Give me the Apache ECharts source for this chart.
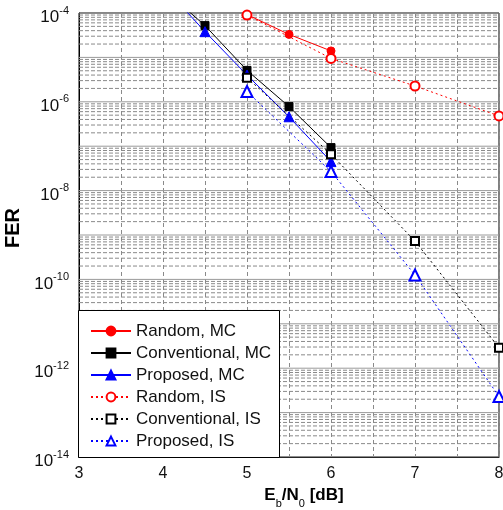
<!DOCTYPE html>
<html><head><meta charset="utf-8">
<script src="https://cdn.jsdelivr.net/npm/echarts@6/dist/echarts.min.js"></script>
<style>html,body{margin:0;padding:0;background:#fff}#c{width:503px;height:510px}</style>
</head><body><div id="c"></div>
<script>
// ---- data ----
var seriesNames = ['Random, MC','Conventional, MC','Proposed, MC','Random, IS','Conventional, IS','Proposed, IS'];
var randomMC_x = [5, 5.5, 6];
var randomMC_y = [9.2e-5, 3.3e-5, 1.4e-5];
var convMC_x = [4, 4.5, 5, 5.5, 6];
var convMC_y = [3.5e-4, 5.2e-5, 5.1e-6, 7.8e-7, 9.3e-8];
var propMC_x = [4, 4.5, 5, 5.5, 6];
var propMC_y = [4.1e-4, 3.8e-5, 4.0e-6, 4.6e-7, 4.5e-8];
var randomIS_x = [5, 6, 7, 8];
var randomIS_y = [9.0e-5, 9.5e-6, 2.27e-6, 4.8e-7];
var convIS_x = [5, 6, 7, 8];
var convIS_y = [3.5e-6, 6.6e-8, 7.3e-10, 2.9e-12];
var propIS_x = [5, 6, 7, 8];
var propIS_y = [1.7e-6, 2.7e-8, 1.26e-10, 2.3e-13];
var xTicks = [3, 4, 5, 6, 7, 8];
var yDecades = [-14, -13, -12, -11, -10, -9, -8, -7, -6, -5, -4];
var minorMultipliers = [2, 3, 4, 5, 6, 7, 8, 9];

function pairs(xs, ys){ return xs.map(function(x,i){ return [x, ys[i]]; }); }

// log grid lines as horizontal segments in data coordinates
var majorGrid = [], minorGrid = [];
yDecades.forEach(function(d){
  var base = Math.pow(10, d);
  majorGrid.push([3, base], [8, base], ['-', '-']);
  if (d < -4) {
    minorMultipliers.forEach(function(k){
      minorGrid.push([3, k * base], [8, k * base], ['-', '-']);
    });
  }
});

var chart = echarts.init(document.getElementById('c'), null, {renderer:'canvas'});
var FONT = 'Liberation Sans, Arial, sans-serif';
function mk(name, xs, ys, color, symbol, size, dashed){
  return {
    name: name, type: 'line', data: pairs(xs, ys), clip: true,
    symbol: symbol, symbolSize: size, showSymbol: true,
    lineStyle: {color: color, width: 1, type: dashed ? [2,3] : 'solid'},
    itemStyle: {color: color, borderColor: color, borderWidth: 1},
    emphasis: {disabled: true}, z: 3, animation: false
  };
}
function gridSeries(name, data, style){
  return {name: name, type: 'line', data: data, symbol: 'none', showSymbol: false, connectNulls: false,
          silent: true, z: 1, lineStyle: style, emphasis: {disabled: true}, animation: false};
}
chart.setOption({
  animation: false,
  backgroundColor: '#fff',
  grid: {left: 79, right: 4, top: 13, bottom: 53, containLabel: false, outerBoundsMode: 'none',
         show: true, borderColor: '#000', borderWidth: 1, backgroundColor: 'transparent'},
  xAxis: {
    type: 'value', min: 3, max: 8, interval: 0.5,
    axisLine: {show: true, lineStyle: {color: '#000', width: 1}},
    axisTick: {show: false},
    splitLine: {show: true, lineStyle: {type: [4,3], color: '#8a8a8a', width: 1}},
    axisLabel: {
      color: '#111', fontFamily: FONT, fontSize: 16, margin: 9, showMaxLabel: true, showMinLabel: true,
      formatter: function(v){ return (Math.abs(v - Math.round(v)) < 1e-6 && xTicks.indexOf(Math.round(v)) >= 0) ? String(Math.round(v)) : ''; }
    },
    name: '{n|E}{s|b}{n|/N}{s|0}{n| [dB]}', nameLocation: 'middle', nameGap: 30,
    nameTextStyle: {
      padding: [0, 0, 0, 30],
      rich: {
        n: {fontFamily: FONT, fontSize: 17, fontWeight: 'bold', color: '#000', lineHeight: 20, verticalAlign: 'top'},
        s: {fontFamily: FONT, fontSize: 11, color: '#000', lineHeight: 11, verticalAlign: 'top', padding: [11, 0, 0, 0]}
      }
    }
  },
  yAxis: {
    type: 'log', logBase: 10, min: 1e-14, max: 1e-4, interval: 1, splitNumber: 10,
    axisLine: {show: true, lineStyle: {color: '#000', width: 1}},
    axisTick: {show: false},
    splitLine: {show: false},
    axisLabel: {
      margin: 10, showMaxLabel: true, showMinLabel: true,
      formatter: function(v){
        var e = Math.round(Math.log10(v));
        if (e % 2 !== 0) return '';
        return '{b|10}{s|' + e + '}';
      },
      rich: {
        b: {fontFamily: FONT, fontSize: 17, color: '#111', lineHeight: 18, verticalAlign: 'top', padding: [5, 0, 0, 0]},
        s: {fontFamily: FONT, fontSize: 11, color: '#111', lineHeight: 11, verticalAlign: 'top', padding: [1, 0, 0, 0]}
      }
    },
    name: 'FER', nameLocation: 'middle', nameGap: 48, nameRotate: 90,
    nameTextStyle: {fontFamily: FONT, fontSize: 20, fontWeight: 'bold', color: '#000', padding: [0, 0, 0, 14]}
  },
  legend: {
    orient: 'vertical', left: 90, top: 322, padding: 0,
    itemWidth: 40, itemHeight: 11, itemGap: 4,
    data: seriesNames,
    textStyle: {fontFamily: FONT, fontSize: 17, color: '#111', lineHeight: 18, padding: [0,0,0,0]},
    selectedMode: false, z: 10
  },
  graphic: [{
    type: 'rect', left: 78, top: 310, z: 8, silent: true,
    shape: {width: 201, height: 147},
    style: {fill: '#fff', stroke: '#000', lineWidth: 1}
  }],
  series: [
    gridSeries('_major', majorGrid, {type: 'solid', color: '#9a9a9a', width: 1}),
    gridSeries('_minor', minorGrid, {type: [4, 2], color: '#8a8a8a', width: 1}),
    mk(seriesNames[0], randomMC_x, randomMC_y, '#ff0000', 'circle', 8, false),
    mk(seriesNames[1], convMC_x, convMC_y, '#000000', 'rect', 8, false),
    mk(seriesNames[2], propMC_x, propMC_y, '#0000ff', 'triangle', 10, false),
    mk(seriesNames[3], randomIS_x, randomIS_y, '#ff0000', 'emptyCircle', 9, true),
    mk(seriesNames[4], convIS_x, convIS_y, '#000000', 'emptyRect', 8, true),
    mk(seriesNames[5], propIS_x, propIS_y, '#0000ff', 'emptyTriangle', 11, true)
  ]
});
</script></body></html>
